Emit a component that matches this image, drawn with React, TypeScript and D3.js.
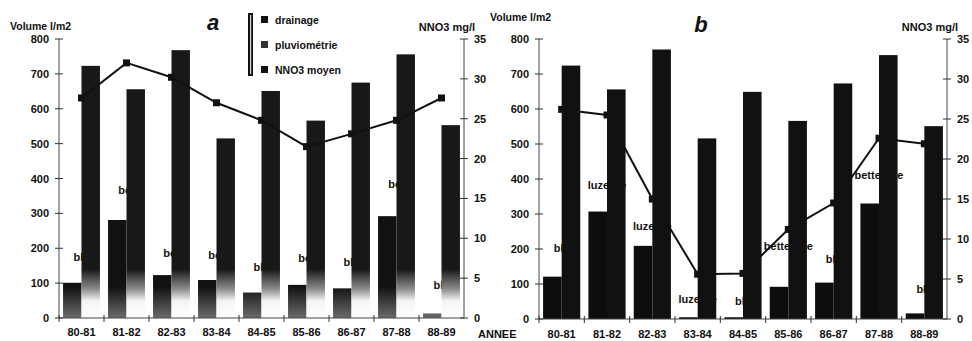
import React from 'react';
import * as d3 from 'd3';

const years = ['80-81', '81-82', '82-83', '83-84', '84-85', '85-86', '86-87', '87-88', '88-89'];
const drainageA = [101, 281, 123, 109, 73, 95, 85, 292, 13];
const pluvioA = [723, 656, 768, 515, 651, 566, 675, 756, 553];
const nno3A = [27.6, 32.0, 30.2, 27.0, 24.8, 21.5, 23.1, 24.8, 27.6];
const cropsA = ['blé', 'bet', 'bet', 'bet', 'blé', 'bet', 'blé', 'bet', 'blé'];
const cropLevelA = [163, 355, 175, 169, 135, 160, 149, 372, 83];

const drainageB = [121, 307, 209, 5, 5, 92, 104, 330, 16];
const pluvioB = [724, 656, 770, 516, 649, 566, 673, 754, 551];
const nno3B = [26.2, 25.5, 15.0, 5.6, 5.7, 11.2, 14.5, 22.6, 21.9];
const cropsB = ['blé', 'luzerne', 'luzerne', 'luzerne', 'blé', 'betterave', 'blé', 'betterave', 'blé'];
const cropLevelB = [191, 371, 254, 46, 40, 197, 160, 400, 74];

const volTicks = [0, 100, 200, 300, 400, 500, 600, 700, 800];
const nTicks = [0, 5, 10, 15, 20, 25, 30, 35];

const FONT = '"Liberation Sans", Arial, Helvetica, sans-serif';

type PanelProps = {
  id: string;
  title: string;
  left: number;
  right: number;
  top: number;
  bottom: number;
  drainage: number[];
  pluvio: number[];
  nno3: number[];
  crops: string[];
  cropLevel: number[];
  gradient: boolean;
  volLabelY: number;
  titleX: number;
  titleY: number;
  xLabelY: number;
};

function Panel(p: PanelProps) {
  const x = d3.scaleBand<string>().domain(years).range([p.left, p.right]).paddingInner(0.18).paddingOuter(0.09);
  const yV = d3.scaleLinear().domain([0, 800]).range([p.bottom, p.top]);
  const yN = d3.scaleLinear().domain([0, 35]).range([p.bottom, p.top]);
  const bw = x.bandwidth() / 2;
  const step = x.step();
  const line = d3
    .line<number>()
    .x((_, i) => (x(years[i]) as number) + bw)
    .y((d) => yN(d));
  const dFill = p.gradient ? `url(#drain-${p.id})` : '#0d0d0d';
  const pFill = p.gradient ? `url(#pluv-${p.id})` : '#111';
  return (
    <g>
      <defs>
        <linearGradient id={`drain-${p.id}`} gradientUnits="userSpaceOnUse" x1={0} x2={0} y1={yV(0)} y2={yV(90)}>
          <stop offset="0" stopColor="#6a6a6a" />
          <stop offset="0.55" stopColor="#3a3a3a" />
          <stop offset="1" stopColor="#111" />
        </linearGradient>
        <linearGradient id={`pluv-${p.id}`} gradientUnits="userSpaceOnUse" x1={0} x2={0} y1={yV(0)} y2={yV(140)}>
          <stop offset="0" stopColor="#fff" />
          <stop offset="0.35" stopColor="#f4f4f4" />
          <stop offset="0.6" stopColor="#8a8a8a" />
          <stop offset="1" stopColor="#181818" />
        </linearGradient>
      </defs>
      {years.map((yr, i) => (
        <rect key={'d' + yr} x={x(yr) as number} y={yV(p.drainage[i])} width={bw} height={yV(0) - yV(p.drainage[i])} fill={dFill} />
      ))}
      {years.map((yr, i) => (
        <text
          key={'c' + yr}
          x={(x(yr) as number) + bw}
          y={yV(p.cropLevel[i])}
          textAnchor="middle"
          fontFamily={FONT}
          fontWeight="bold"
          fontSize={11}
          fill="#111"
        >
          {p.crops[i]}
        </text>
      ))}
      {years.map((yr, i) => (
        <rect key={'p' + yr} x={(x(yr) as number) + bw} y={yV(p.pluvio[i])} width={bw} height={yV(0) - yV(p.pluvio[i])} fill={pFill} />
      ))}
      <line x1={p.left} x2={p.left} y1={p.top} y2={p.bottom} stroke="#444" strokeWidth={1} />
      <line x1={p.right} x2={p.right} y1={p.top} y2={p.bottom} stroke="#444" strokeWidth={1} />
      <line x1={p.left} x2={p.right} y1={p.bottom} y2={p.bottom} stroke="#444" strokeWidth={1} />
      {volTicks.map((t) => (
        <g key={'vt' + t}>
          <line x1={p.left - 4} x2={p.left + 4} y1={yV(t)} y2={yV(t)} stroke="#333" />
          <text x={p.left - 10} y={yV(t) + 4} textAnchor="end" fontFamily={FONT} fontWeight="bold" fontSize={11} fill="#111">
            {t}
          </text>
        </g>
      ))}
      {nTicks.map((t) => (
        <g key={'nt' + t}>
          <line x1={p.right - 4} x2={p.right + 4} y1={yN(t)} y2={yN(t)} stroke="#333" />
          <text x={p.right + 10} y={yN(t) + 4} textAnchor="start" fontFamily={FONT} fontWeight="bold" fontSize={11} fill="#111">
            {t}
          </text>
        </g>
      ))}
      {years.map((yr, i) => (
        <line key={'xt' + yr} x1={p.left + step * i} x2={p.left + step * i} y1={p.bottom - 3} y2={p.bottom + 4} stroke="#333" />
      ))}
      {years.map((yr) => (
        <text
          key={'xl' + yr}
          x={(x(yr) as number) + bw}
          y={p.xLabelY}
          textAnchor="middle"
          fontFamily={FONT}
          fontWeight="bold"
          fontSize={11}
          fill="#111"
        >
          {yr}
        </text>
      ))}
      <path d={line(p.nno3) || ''} fill="none" stroke="#111" strokeWidth={2} />
      {p.nno3.map((v, i) => (
        <rect key={'m' + i} x={(x(years[i]) as number) + bw - 3.5} y={yN(v) - 3.5} width={7} height={7} fill="#111" />
      ))}
      <text x={p.left - 49} y={p.volLabelY} fontFamily={FONT} fontWeight="bold" fontSize={10.5} fill="#111">
        Volume l/m2
      </text>
      <text x={p.right + 11} y={31} textAnchor="end" fontFamily={FONT} fontWeight="bold" fontSize={11} fill="#111">
        NNO3 mg/l
      </text>
      <text x={p.titleX} y={p.titleY} textAnchor="middle" fontFamily={FONT} fontWeight="bold" fontStyle="italic" fontSize={22} fill="#111">
        {p.title}
      </text>
    </g>
  );
}

export default function App() {
  return (
    <svg width={972} height={341} style={{ position: 'absolute', left: 0, top: 0, background: '#fff' }}>
      <rect x={0} y={0} width={972} height={341} fill="#fff" />
      <Panel
        id="a"
        title="a"
        left={59}
        right={464}
        top={39}
        bottom={318}
        drainage={drainageA}
        pluvio={pluvioA}
        nno3={nno3A}
        crops={cropsA}
        cropLevel={cropLevelA}
        gradient={true}
        volLabelY={30}
        titleX={213}
        titleY={30}
        xLabelY={336}
      />
      <Panel
        id="b"
        title="b"
        left={539}
        right={947}
        top={39}
        bottom={319}
        drainage={drainageB}
        pluvio={pluvioB}
        nno3={nno3B}
        crops={cropsB}
        cropLevel={cropLevelB}
        gradient={false}
        volLabelY={21}
        titleX={701}
        titleY={32}
        xLabelY={338}
      />
      <rect x={248} y={13} width={5} height={63} fill="#111" />
      <rect x={250} y={15} width={1.2} height={59} fill="#ddd" />
      <rect x={261} y={16} width={7} height={7} fill="#111" />
      <rect x={261} y={41} width={7} height={7} fill="#333" />
      <rect x={261} y={66} width={7} height={7} fill="#111" />
      <text x={275} y={24} fontFamily={FONT} fontWeight="bold" fontSize={10.5} fill="#111">drainage</text>
      <text x={275} y={49} fontFamily={FONT} fontWeight="bold" fontSize={10.5} fill="#111">pluviométrie</text>
      <text x={275} y={74} fontFamily={FONT} fontWeight="bold" fontSize={10.5} fill="#111">NNO3 moyen</text>
      <text x={478} y={338} fontFamily={FONT} fontWeight="bold" fontSize={11} fill="#111">ANNEE</text>
    </svg>
  );
}
